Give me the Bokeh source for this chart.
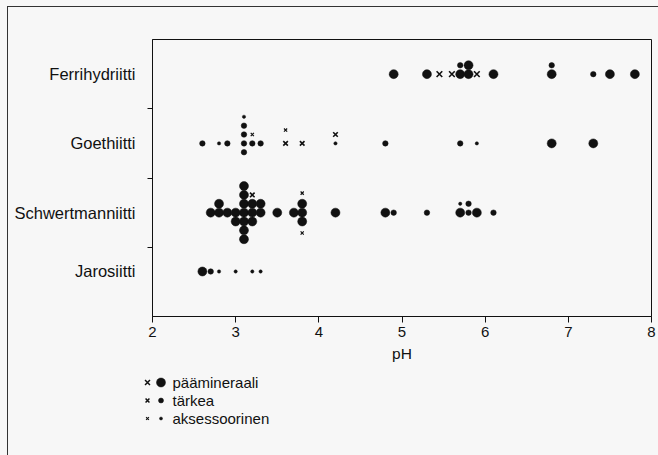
from bokeh.plotting import figure
from bokeh.models import FixedTicker, Range1d, ColumnDataSource
from bokeh.core.properties import value
from bokeh.embed import file_html
from bokeh.resources import INLINE

# ---------------- data ----------------
minerals = ["Ferrihydriitti", "Goethiitti", "Schwertmanniitti", "Jarosiitti"]
rank_labels = ["päämineraali", "tärkea", "aksessoorinen"]
x_ticks = [2, 3, 4, 5, 6, 7, 8]

# kind: "o" = dot, "x" = cross ; rank: 0 = päämineraali, 1 = tärkea, 2 = aksessoorinen
# stack = how many symbols are stacked under this one at the same pH
ferri_ph    = [4.9, 5.3, 5.45, 5.6, 5.7, 5.7, 5.8, 5.8, 5.9, 6.1, 6.8, 6.8, 7.3, 7.5, 7.8]
ferri_kind  = ["o", "o", "x", "x", "o", "o", "o", "o", "x", "o", "o", "o", "o", "o", "o"]
ferri_rank  = [0, 0, 0, 0, 0, 1, 0, 0, 0, 0, 0, 1, 1, 0, 0]
ferri_stack = [0, 0, 0, 0, 0, 1, 0, 1, 0, 0, 0, 1, 0, 0, 0]

goe_ph    = [2.6, 2.8, 2.9, 3.1, 3.1, 3.1, 3.1, 3.1, 3.2, 3.2, 3.3, 3.6, 3.6, 3.8, 4.2, 4.2, 4.8, 5.7, 5.9, 6.8, 7.3]
goe_kind  = ["o", "o", "o", "o", "o", "o", "o", "o", "o", "x", "o", "x", "x", "x", "o", "x", "o", "o", "o", "o", "o"]
goe_rank  = [1, 2, 1, 1, 1, 1, 1, 2, 1, 2, 1, 1, 2, 1, 2, 1, 1, 1, 2, 0, 0]
goe_stack = [0, 0, 0, -1, 0, 1, 2, 3, 0, 1, 0, 0, 1.5, 0, 0, 1, 0, 0, 0, 0, 0]

schw_ph    = [2.7, 2.8, 2.8, 2.9, 3.0, 3.0,
              3.1, 3.1, 3.1, 3.1, 3.1, 3.1, 3.1,
              3.2, 3.2, 3.2, 3.2, 3.3, 3.3, 3.5, 3.7,
              3.8, 3.8, 3.8, 3.8, 3.8, 4.2, 4.8, 4.9, 5.3,
              5.7, 5.7, 5.8, 5.8, 5.9, 6.1]
schw_kind  = ["o", "o", "o", "o", "o", "o",
              "o", "o", "o", "o", "o", "o", "o",
              "o", "o", "o", "x", "o", "o", "o", "o",
              "o", "o", "o", "x", "x", "o", "o", "o", "o",
              "o", "o", "o", "o", "o", "o"]
schw_rank  = [0, 0, 0, 0, 0, 0,
              0, 0, 0, 0, 0, 0, 0,
              0, 0, 0, 1, 0, 0, 0, 0,
              0, 0, 0, 2, 2, 0, 0, 1, 1,
              0, 2, 1, 1, 0, 1]
schw_stack = [0, 0, 1, 0, 0, -1,
              -3, -2, -1, 0, 1, 2, 3,
              -1, 0, 1, 2, 0, 1, 0, 0,
              -1, 0, 1, 2.2, -2.3, 0, 0, 0, 0,
              0, 1, 0, 1, 0, 0]

jaro_ph    = [2.6, 2.7, 2.8, 3.0, 3.2, 3.3]
jaro_kind  = ["o", "o", "o", "o", "o", "o"]
jaro_rank  = [0, 1, 2, 2, 2, 2]
jaro_stack = [0, 0, 0, 0, 0, 0]

# ---------------- layout / style ----------------
W = 658
H_MAIN, H_LEG = 370, 85
row_pos = {"Ferrihydriitti": 3.5, "Goethiitti": 2.5, "Schwertmanniitti": 1.5, "Jarosiitti": 0.65}
row_bounds = [1, 2, 3]
STEP = 0.128
dot_size = [9, 5.5, 3.3]
x_size = [8.0, 6.5, 4.5]
INK = "#111111"
BG = "#f7f7f7"
FONT = "Liberation Sans"
LINE = "linear-gradient(#333,#333)"

groups = {
    "Ferrihydriitti": (ferri_ph, ferri_kind, ferri_rank, ferri_stack),
    "Goethiitti": (goe_ph, goe_kind, goe_rank, goe_stack),
    "Schwertmanniitti": (schw_ph, schw_kind, schw_rank, schw_stack),
    "Jarosiitti": (jaro_ph, jaro_kind, jaro_rank, jaro_stack),
}

p = figure(width=W, height=H_MAIN, x_range=Range1d(2, 8), y_range=Range1d(0, 4),
           output_backend="svg", toolbar_location=None,
           min_border_left=152, min_border_right=7, min_border_top=39, min_border_bottom=54)
p.grid.visible = False
p.background_fill_color = None
p.border_fill_color = None
p.styles = {
    "background": f"{LINE} 7px 6px / 1px 100% no-repeat, {LINE} 7px 6px / 100% 1px no-repeat, {BG}",
}
p.outline_line_color = INK
p.outline_line_width = 1
p.outline_line_alpha = 1

for kind in ["o", "x"]:
    for r in range(3):
        xs, ys = [], []
        for m in minerals:
            ph, kd, rk, st = groups[m]
            for a, b, c, d in zip(ph, kd, rk, st):
                if b == kind and c == r:
                    xs.append(a)
                    ys.append(row_pos[m] + d * STEP)
        src = ColumnDataSource(dict(x=xs, y=ys))
        if kind == "o":
            p.scatter("x", "y", source=src, marker="circle", size=dot_size[r],
                      fill_color=INK, line_color=INK, line_width=0.5)
        else:
            p.scatter("x", "y", source=src, marker="x", size=x_size[r],
                      line_color=INK, line_width=1.6 if r < 2 else 1.2)

xa = p.xaxis[0]
xa.ticker = FixedTicker(ticks=x_ticks)
xa.axis_label = "pH"
xa.axis_label_text_font = FONT
xa.axis_label_text_font_style = "normal"
xa.axis_label_text_font_size = "15.5px"
xa.axis_label_text_color = INK
xa.axis_label_standoff = 5
xa.major_label_text_font = FONT
xa.major_label_text_font_size = "15px"
xa.major_label_text_color = INK
xa.major_label_standoff = 4
xa.major_tick_in = 0
xa.major_tick_out = 6
xa.minor_tick_in = 0
xa.minor_tick_out = 0
xa.axis_line_color = INK
xa.major_tick_line_color = INK

ya = p.yaxis[0]
ya.ticker = FixedTicker(ticks=[row_pos[m] for m in minerals], minor_ticks=row_bounds)
ya.major_label_overrides = {row_pos[m]: m for m in minerals}
ya.major_label_text_font = FONT
ya.major_label_text_font_size = "16.5px"
ya.major_label_text_color = INK
ya.major_label_standoff = 12
ya.major_tick_in = 0
ya.major_tick_out = 0
ya.minor_tick_in = 0
ya.minor_tick_out = 5
ya.minor_tick_line_color = INK
ya.axis_line_color = INK

# ---------------- legend panel (pixel coordinates, y downwards) ----------------
leg = figure(width=W, height=H_LEG, x_range=Range1d(0, W), y_range=Range1d(H_LEG, 0),
             output_backend="svg", toolbar_location=None,
             min_border_left=0, min_border_right=0, min_border_top=0, min_border_bottom=0)
leg.axis.visible = False
leg.grid.visible = False
leg.outline_line_color = None
leg.background_fill_color = None
leg.border_fill_color = None
leg.styles = {"background": f"{LINE} 7px 0px / 1px 100% no-repeat, {BG}"}

leg_rows = [12, 30, 48]
cross_x, dot_x, text_x = 147, 160.5, 172
leg_dot = [9, 5, 3]
leg_x = [7, 5.5, 4]
for r in range(3):
    leg.scatter([cross_x], [leg_rows[r]], marker="x", size=leg_x[r], line_color=INK,
                line_width=1.5 if r < 2 else 1.1)
    leg.scatter([dot_x], [leg_rows[r]], marker="circle", size=leg_dot[r],
                fill_color=INK, line_color=INK, line_width=0.5)
leg.text(x=[text_x] * 3, y=leg_rows, text=rank_labels, text_font=value(FONT),
         text_font_size="15px", text_color=INK, text_baseline="middle", text_align="left")

open("out.html", "w").write(file_html([p, leg], INLINE))
